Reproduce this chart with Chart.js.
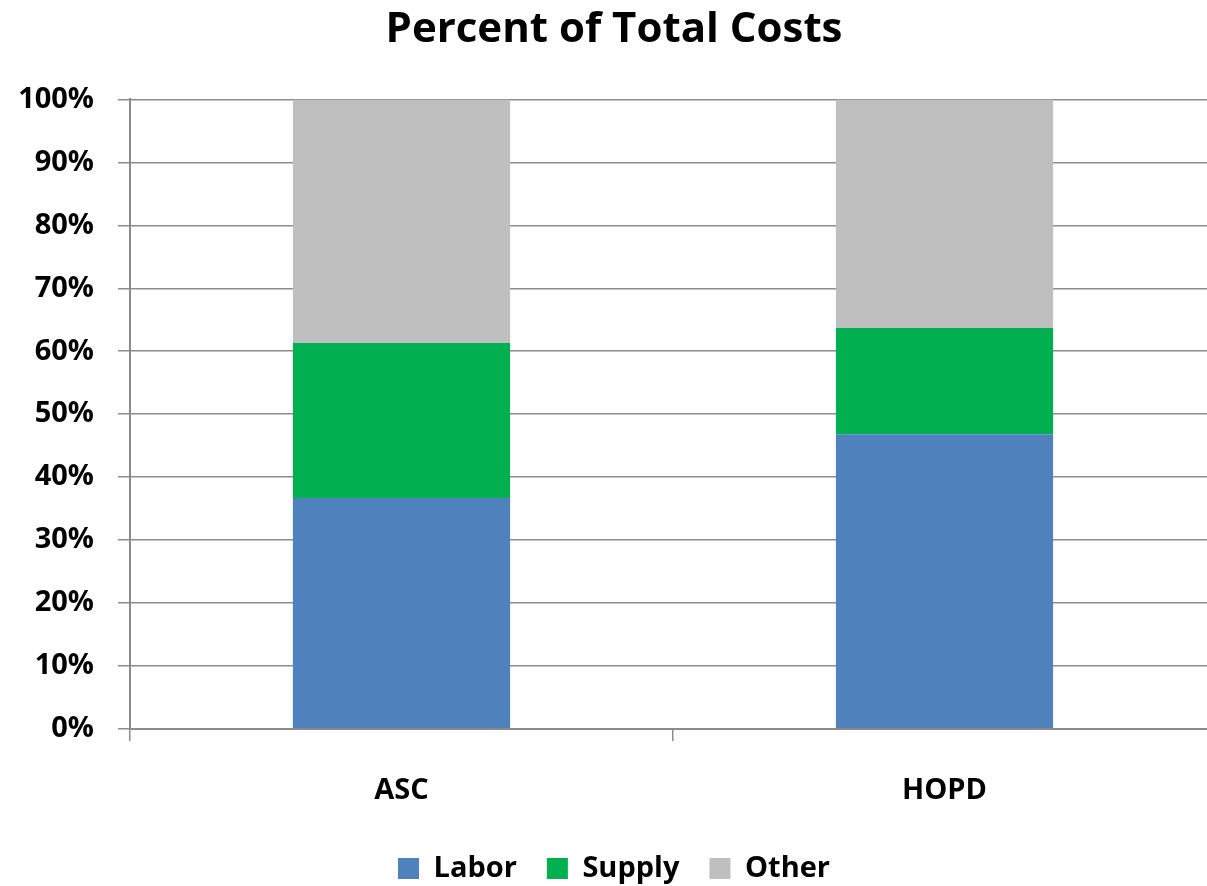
<!DOCTYPE html>
<html>
<head>
<meta charset="utf-8">
<script src="https://cdn.jsdelivr.net/npm/chart.js@4/dist/chart.umd.min.js"></script>
<style>
html,body{margin:0;padding:0;background:#fff;overflow:hidden;}
#wrap{position:relative;width:1228px;height:893px;}
</style>
</head>
<body>
<div id="wrap"><canvas id="c"></canvas></div>
<script>
const categories = ["ASC", "HOPD"];
const labor = [36.7, 46.8];
const supply = [24.6, 16.9];
const other = [38.7, 36.3];
const yTicks = [0,10,20,30,40,50,60,70,80,90,100];

const FONT = "'Open Sans', Lato, sans-serif";
const gridColor = '#8c8c8c';

new Chart(document.getElementById('c'), {
  type: 'bar',
  data: {
    labels: categories,
    datasets: [
      {label: 'Labor', data: labor, backgroundColor: '#4f81bd', barPercentage: 0.4, categoryPercentage: 1},
      {label: 'Supply', data: supply, backgroundColor: '#00b050', barPercentage: 0.4, categoryPercentage: 1},
      {label: 'Other', data: other, backgroundColor: '#bfbfbf', barPercentage: 0.4, categoryPercentage: 1}
    ]
  },
  options: {
    responsive: true,
    maintainAspectRatio: false,
    animation: false,
    layout: {padding: {left: 12, right: 12, top: 5, bottom: 0}},
    plugins: {
      title: {
        display: true,
        text: 'Percent of Total Costs',
        color: '#000',
        font: {family: FONT, size: 42, weight: 'bold', lineHeight: 1.2},
        padding: {top: 0, bottom: 44}
      },
      legend: {
        position: 'bottom',
        labels: {
          color: '#000',
          font: {family: FONT, size: 29, weight: 'bold'},
          boxWidth: 21,
          boxHeight: 21,
          padding: 30
        }
      },
      tooltip: {enabled: false}
    },
    scales: {
      x: {
        stacked: true,
        afterFit: (s) => { s.height = 95; },
        grid: {display: true, drawOnChartArea: false, color: gridColor, lineWidth: 1.5, tickLength: 12, offset: true},
        border: {display: true, color: gridColor, width: 2},
        ticks: {color: '#000', font: {family: FONT, size: 29, weight: 'bold'}, padding: 32}
      },
      y: {
        stacked: true,
        min: 0,
        max: 100,
        afterFit: (s) => { s.width = 118; },
        afterBuildTicks: (axis) => { axis.ticks = yTicks.map(v => ({value: v})); },
        grid: {color: gridColor, lineWidth: 1.5, tickLength: 12},
        border: {display: true, color: gridColor, width: 2},
        ticks: {color: '#000', font: {family: FONT, size: 29, weight: 'bold'}, padding: 24, callback: v => v + '%'}
      }
    }
  }
});
</script>
</body>
</html>
